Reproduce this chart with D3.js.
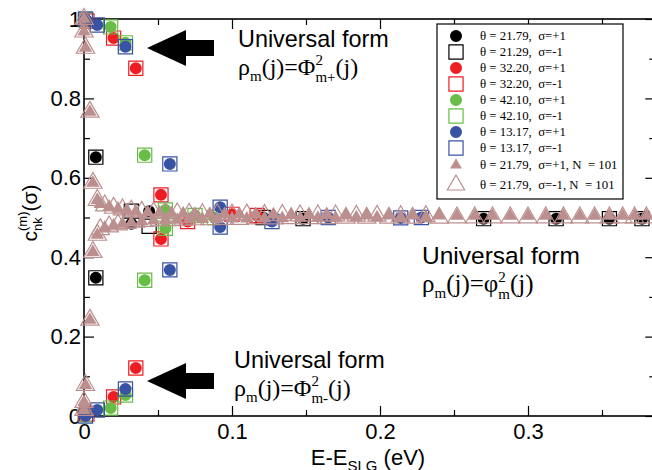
<!DOCTYPE html>
<html>
<head>
<meta charset="utf-8">
<script src="https://cdn.jsdelivr.net/npm/d3@7"></script>
<style>
  body { margin: 0; background: #fff; }
  svg { display: block; }
  text { white-space: pre; }
</style>
</head>
<body>
<div class="svg-container"></div>
<script>
// values: [E - E_SLG (eV), c_nk^(m)(sigma)]
const blackPlus = [[0.008,0.652],[0.008,0.348],[0.032,0.484],[0.044,0.516],[0.121,0.500],[0.148,0.497],[0.270,0.497],[0.319,0.497],[0.355,0.497],[0.377,0.497]];
const blackMinus = [[0.008,0.652],[0.008,0.348],[0.032,0.516],[0.044,0.478],[0.121,0.500],[0.148,0.497],[0.270,0.497],[0.319,0.497],[0.355,0.497],[0.377,0.497]];
const redPlus = [[0.002,0.995],[0.020,0.952],[0.035,0.876],[0.052,0.557],[0.052,0.446],[0.070,0.490],[0.100,0.508],[0.117,0.505],[0.035,0.121],[0.020,0.048],[0.002,0.005]];
const redMinus = [[0.002,0.995],[0.020,0.952],[0.035,0.876],[0.052,0.557],[0.052,0.446],[0.070,0.490],[0.100,0.508],[0.117,0.505],[0.035,0.121],[0.020,0.048],[0.002,0.005]];
const greenPlus = [[0.001,0.998],[0.018,0.980],[0.028,0.940],[0.041,0.657],[0.041,0.342],[0.055,0.519],[0.055,0.473],[0.075,0.505],[0.088,0.500],[0.028,0.053],[0.018,0.020],[0.001,0.003]];
const greenMinus = [[0.001,0.998],[0.018,0.980],[0.028,0.940],[0.041,0.657],[0.041,0.342],[0.055,0.519],[0.055,0.473],[0.075,0.505],[0.088,0.500],[0.028,0.053],[0.018,0.020],[0.001,0.003]];
const bluePlus = [[0.001,1.000],[0.009,0.985],[0.028,0.930],[0.058,0.635],[0.058,0.368],[0.092,0.526],[0.092,0.476],[0.127,0.490],[0.165,0.500],[0.214,0.499],[0.228,0.500],[0.028,0.068],[0.009,0.015],[0.001,0.000]];
const blueMinus = [[0.001,1.000],[0.009,0.985],[0.028,0.930],[0.058,0.635],[0.058,0.368],[0.092,0.526],[0.092,0.476],[0.127,0.490],[0.165,0.500],[0.214,0.499],[0.228,0.500],[0.028,0.068],[0.009,0.015],[0.001,0.000]];

// N = 101 system: points near E = 0, then the band around 1/2
const triEdgeX = [0.000,0.000,0.001,0.004,0.006,0.009,0.009,0.006,0.004,0.001,0.000,0.000];
const triEdgeY = [1.000,0.968,0.927,0.766,0.587,0.544,0.456,0.413,0.242,0.078,0.035,0.015];
const triBandX = [0.011,0.014,0.017,0.020,0.023,0.026,0.029,0.032,0.035,0.039,
                  0.043,0.047,0.051,0.055,0.059,0.063,0.067,0.071,0.075,0.080,
                  0.085,0.090,0.095,0.100,0.105,0.110,0.116,0.122,0.128,0.134,
                  0.140,0.146,0.152,0.158,0.164,0.170,0.177,0.184,0.191,0.198,
                  0.206,0.214,0.222,0.231,0.240,0.252,0.264,0.276,0.288,0.300,
                  0.312,0.324,0.335,0.345,0.355,0.364,0.372,0.380];
const triPlusY = [0.534,0.474,0.527,0.480,0.522,0.484,0.518,0.487,0.515,0.490,
                  0.513,0.492,0.512,0.493,0.511,0.494,0.510,0.495,0.509,0.496,
                  0.509,0.496,0.508,0.497,0.508,0.497,0.507,0.498,0.507,0.498,
                  0.506,0.499,0.506,0.499,0.506,0.499,0.505,0.500,0.505,0.500,
                  0.505,0.501,0.505,0.501,0.505,0.504,0.504,0.504,0.504,0.504,
                  0.504,0.504,0.504,0.504,0.504,0.504,0.504,0.504];
const triMinusY = [0.470,0.530,0.477,0.524,0.482,0.520,0.486,0.517,0.489,0.514,
                   0.491,0.512,0.492,0.511,0.493,0.510,0.494,0.509,0.495,0.508,
                   0.495,0.508,0.496,0.507,0.496,0.507,0.497,0.506,0.497,0.506,
                   0.498,0.505,0.498,0.505,0.498,0.505,0.499,0.504,0.499,0.504,
                   0.499,0.503,0.499,0.503,0.499,0.500,0.500,0.500,0.500,0.500,
                   0.500,0.500,0.500,0.500,0.500,0.500,0.500,0.500];

const legendLabels = [
  'θ = 21.79,  σ=+1', 'θ = 21.29,  σ=-1',
  'θ = 32.20,  σ=+1', 'θ = 32.20,  σ=-1',
  'θ = 42.10,  σ=+1', 'θ = 42.10,  σ=-1',
  'θ = 13.17,  σ=+1', 'θ = 13.17,  σ=-1',
  'θ = 21.79,  σ=+1, N  = 101', 'θ = 21.79,  σ=-1, N  = 101'
];
const xMajor = [0, 0.1, 0.2, 0.3];
const xMinor = [0.05, 0.15, 0.25, 0.35];
const yMajor = [0, 0.2, 0.4, 0.6, 0.8, 1];
const yMinor = [0.1, 0.3, 0.5, 0.7, 0.9];

const width = 652;
const height = 470;
const xEnd = 0.386; // right frame sits just off the picture

const svg = d3.select('.svg-container')
  .append('svg')
  .attr('width', width)
  .attr('height', height);

const x = d3.scaleLinear().domain([0, 0.4]).range([84, 676]);
const y = d3.scaleLinear().domain([0, 1]).range([416, 19]);

const sans = "'Liberation Sans', Arial, Helvetica, sans-serif";
const serif = "'Liberation Serif', 'Times New Roman', serif";

// frame
svg.append('rect')
  .attr('x', x(0)).attr('y', y(1))
  .attr('width', x(xEnd) - x(0)).attr('height', y(0) - y(1))
  .attr('fill', 'none').attr('stroke', '#000').attr('stroke-width', 1.6);

function styleAxis(g) {
  g.select('.domain').remove();
  g.selectAll('line').attr('stroke', '#000').attr('stroke-width', 1.2);
  g.selectAll('text').style('font-family', sans).style('font-size', '22px').attr('fill', '#000');
}
const fmt = d => (d === 0 ? '0' : d === 1 ? '1' : d3.format('.1f')(d));

svg.append('g').attr('transform', `translate(0,${y(0)})`)
  .call(d3.axisBottom(x).tickValues(xMajor).tickSize(-10).tickPadding(7).tickFormat(fmt)).call(styleAxis);
svg.append('g').attr('transform', `translate(0,${y(0)})`)
  .call(d3.axisBottom(x).tickValues(xMinor).tickSize(-6).tickFormat('')).call(styleAxis);
svg.append('g').attr('transform', `translate(0,${y(1)})`)
  .call(d3.axisTop(x).tickValues(xMajor).tickSize(-10).tickFormat('')).call(styleAxis);
svg.append('g').attr('transform', `translate(0,${y(1)})`)
  .call(d3.axisTop(x).tickValues(xMinor).tickSize(-6).tickFormat('')).call(styleAxis);
svg.append('g').attr('transform', `translate(${x(0)},0)`)
  .call(d3.axisLeft(y).tickValues(yMajor).tickSize(-10).tickPadding(3).tickFormat(fmt)).call(styleAxis);
svg.append('g').attr('transform', `translate(${x(0)},0)`)
  .call(d3.axisLeft(y).tickValues(yMinor).tickSize(-6).tickFormat('')).call(styleAxis);
svg.append('g').attr('transform', `translate(${x(xEnd)},0)`)
  .call(d3.axisRight(y).tickValues(yMajor).tickSize(-10).tickFormat('')).call(styleAxis);
svg.append('g').attr('transform', `translate(${x(xEnd)},0)`)
  .call(d3.axisRight(y).tickValues(yMinor).tickSize(-6).tickFormat('')).call(styleAxis);

// text made of pieces (sub/superscripts), stack = next piece shares this x
function richText(g, x0, y0, parts) {
  let cx = x0;
  let stackW = 0;
  parts.forEach(p => {
    const t = g.append('text')
      .attr('x', cx).attr('y', y0 + (p.dy || 0))
      .style('font-family', p.family).style('font-size', p.size + 'px')
      .attr('fill', '#000')
      .text(p.t);
    const w = t.node().getComputedTextLength();
    if (p.stack) {
      stackW = w;
    } else {
      cx += Math.max(w, stackW);
      stackW = 0;
    }
  });
  return cx - x0;
}

// axis titles
const xt = svg.append('g');
const xw = richText(xt, 0, 465, [
  { t: 'E-E', size: 22, family: sans },
  { t: 'SLG', size: 15, family: sans, dy: 6 },
  { t: ' (eV)', size: 22, family: sans }
]);
xt.attr('transform', `translate(${368 - xw / 2},0)`);

const yt = svg.append('g').attr('transform', 'translate(37,213) rotate(-90)');
const yInner = yt.append('g');
const yw = richText(yInner, 0, 0, [
  { t: 'c', size: 21, family: sans },
  { t: '(m)', size: 13, family: sans, dy: -10, stack: true },
  { t: 'nk', size: 13, family: sans, dy: 5 },
  { t: '(σ)', size: 21, family: sans }
]);
yInner.attr('transform', `translate(${-yw / 2},0)`);

// series
const sym = {
  circle: d3.symbol().type(d3.symbolCircle).size(113)(),
  square: d3.symbol().type(d3.symbolSquare).size(200)(),
  triFill: d3.symbol().type(d3.symbolTriangle).size(78)(),
  triOpen: d3.symbol().type(d3.symbolTriangle).size(145)()
};

const triPlus = d3.zip(triEdgeX, triEdgeY).concat(d3.zip(triBandX, triPlusY));
const triMinus = d3.zip(triEdgeX, triEdgeY).concat(d3.zip(triBandX, triMinusY));

const rosy = '#bc8f8f';
const series = [
  { data: blackPlus, shape: 'circle', color: '#000000', filled: true },
  { data: blackMinus, shape: 'square', color: '#000000', filled: false },
  { data: redPlus, shape: 'circle', color: '#ee1d24', filled: true },
  { data: redMinus, shape: 'square', color: '#ee1d24', filled: false },
  { data: greenPlus, shape: 'circle', color: '#67bd45', filled: true },
  { data: greenMinus, shape: 'square', color: '#67bd45', filled: false },
  { data: bluePlus, shape: 'circle', color: '#3953a4', filled: true },
  { data: blueMinus, shape: 'square', color: '#3953a4', filled: false },
  { data: triPlus, shape: 'triFill', color: rosy, filled: true },
  { data: triMinus, shape: 'triOpen', color: rosy, filled: false }
];

series.forEach(s => {
  svg.append('g').selectAll('path')
    .data(s.data)
    .enter()
    .append('path')
    .attr('d', sym[s.shape])
    .attr('transform', d => `translate(${x(d[0])},${y(d[1])})`)
    .attr('fill', s.filled ? s.color : 'none')
    .attr('stroke', s.filled ? 'none' : s.color)
    .attr('stroke-width', 1.2);
});

// legend
const legend = svg.append('g');
legend.append('rect')
  .attr('x', 437).attr('y', 24).attr('width', 186).attr('height', 175)
  .attr('fill', '#fff').attr('stroke', '#000').attr('stroke-width', 1.2);
const rowY = [36, 52, 68, 84, 100, 116, 132, 148, 165, 185];
const legendSym = {
  circle: sym.circle, square: sym.square,
  triFill: d3.symbol().type(d3.symbolTriangle).size(60)(),
  triOpen: d3.symbol().type(d3.symbolTriangle).size(130)()
};
series.forEach((s, i) => {
  legend.append('path')
    .attr('d', legendSym[s.shape])
    .attr('transform', `translate(456,${rowY[i]})`)
    .attr('fill', s.filled ? s.color : 'none')
    .attr('stroke', s.filled ? 'none' : s.color)
    .attr('stroke-width', 1.2);
  legend.append('text')
    .attr('x', 480).attr('y', rowY[i] + 4)
    .style('font-family', serif).style('font-size', '12.8px')
    .attr('fill', '#000')
    .text(legendLabels[i]);
});

// annotations
function arrow(tipX, tipY) {
  const pts = [[tipX, tipY], [tipX + 39, tipY - 18], [tipX + 39, tipY - 8], [tipX + 67, tipY - 8],
               [tipX + 67, tipY + 8], [tipX + 39, tipY + 8], [tipX + 39, tipY + 18]];
  svg.append('path').attr('d', d3.line()(pts) + 'Z').attr('fill', '#000');
}
arrow(147, 48);
arrow(147, 381);

function label(x0, y0, size, fsize, greek, supSub) {
  svg.append('text').attr('x', x0).attr('y', y0)
    .style('font-family', sans).style('font-size', size + 'px').attr('fill', '#000')
    .text('Universal form');
  richText(svg.append('g'), x0, y0 + 28, [
    { t: 'ρ', size: fsize, family: serif },
    { t: 'm', size: 15, family: serif, dy: 6 },
    { t: '(j)=' + greek, size: fsize, family: serif },
    { t: '2', size: 15, family: serif, dy: -10, stack: true },
    { t: supSub, size: 15, family: serif, dy: 7 },
    { t: '(j)', size: fsize, family: serif }
  ]);
}
label(238, 47, 23.4, 24, 'Φ', 'm+');
label(422, 264, 24.5, 25, 'φ', 'm');
label(234, 368, 23.4, 24, 'Φ', 'm-');
</script>
</body>
</html>
